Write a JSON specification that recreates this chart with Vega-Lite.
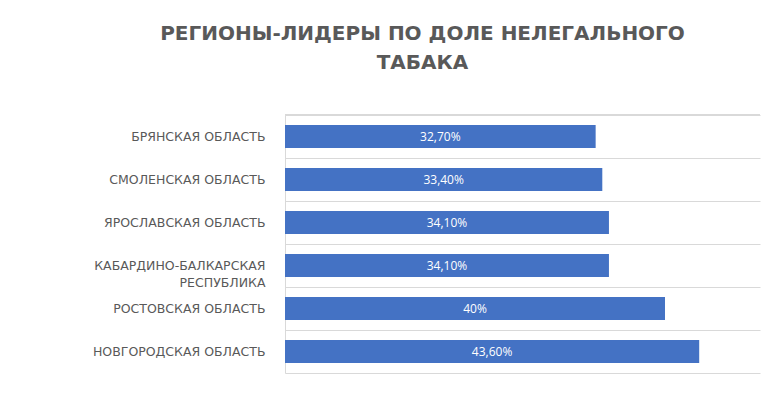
{
  "$schema": "https://vega.github.io/schema/vega-lite/v6.json",
  "width": 475,
  "height": 258,
  "autosize": {"type": "none"},
  "padding": {"left": 285, "top": 115, "right": 24, "bottom": 25},
  "background": "white",
  "title": {
    "text": ["РЕГИОНЫ-ЛИДЕРЫ ПО ДОЛЕ НЕЛЕГАЛЬНОГО", "ТАБАКА"],
    "anchor": "middle",
    "dx": -100,
    "offset": 36,
    "font": "DejaVu Sans",
    "fontSize": 20,
    "fontWeight": "bold",
    "color": "#595959",
    "lineHeight": 29
  },
  "data": {
    "values": [
      {"region": "БРЯНСКАЯ ОБЛАСТЬ", "value": 32.7, "label": "32,70%"},
      {"region": "СМОЛЕНСКАЯ ОБЛАСТЬ", "value": 33.4, "label": "33,40%"},
      {"region": "ЯРОСЛАВСКАЯ ОБЛАСТЬ", "value": 34.1, "label": "34,10%"},
      {"region": "КАБАРДИНО-БАЛКАРСКАЯ РЕСПУБЛИКА", "value": 34.1, "label": "34,10%"},
      {"region": "РОСТОВСКАЯ ОБЛАСТЬ", "value": 40, "label": "40%"},
      {"region": "НОВГОРОДСКАЯ ОБЛАСТЬ", "value": 43.6, "label": "43,60%"}
    ]
  },
  "transform": [{"calculate": "datum.value / 2", "as": "mid"}],
  "encoding": {
    "y": {
      "field": "region",
      "type": "nominal",
      "sort": null,
      "scale": {"paddingInner": 0, "paddingOuter": 0},
      "axis": {
        "title": null,
        "ticks": false,
        "grid": true,
        "tickBand": "extent",
        "gridColor": "#d9d9d9",
        "domainColor": "#d9d9d9",
        "labelPadding": 20,
        "labelFont": "DejaVu Sans",
        "labelFontSize": 12.5,
        "labelColor": "#595959",
        "labelAlign": "right",
        "labelLineHeight": 17,
        "labelExpr": "datum.label == 'КАБАРДИНО-БАЛКАРСКАЯ РЕСПУБЛИКА' ? ['КАБАРДИНО-БАЛКАРСКАЯ', 'РЕСПУБЛИКА'] : datum.label"
      }
    }
  },
  "layer": [
    {
      "mark": {"type": "rule", "color": "#d9d9d9"},
      "encoding": {
        "y": {"datum": "БРЯНСКАЯ ОБЛАСТЬ", "type": "nominal", "bandPosition": 0}
      }
    },
    {
      "mark": {"type": "bar", "color": "#4472C4", "height": {"band": 0.535}},
      "encoding": {
        "x": {"field": "value", "type": "quantitative", "scale": {"domain": [0, 50]}, "axis": null}
      }
    },
    {
      "mark": {"type": "text", "color": "white", "font": "Open Sans", "fontSize": 12, "align": "center", "baseline": "middle"},
      "encoding": {
        "x": {"field": "mid", "type": "quantitative", "scale": {"domain": [0, 50]}, "axis": null},
        "text": {"field": "label"}
      }
    }
  ],
  "config": {"view": {"stroke": null}}
}
